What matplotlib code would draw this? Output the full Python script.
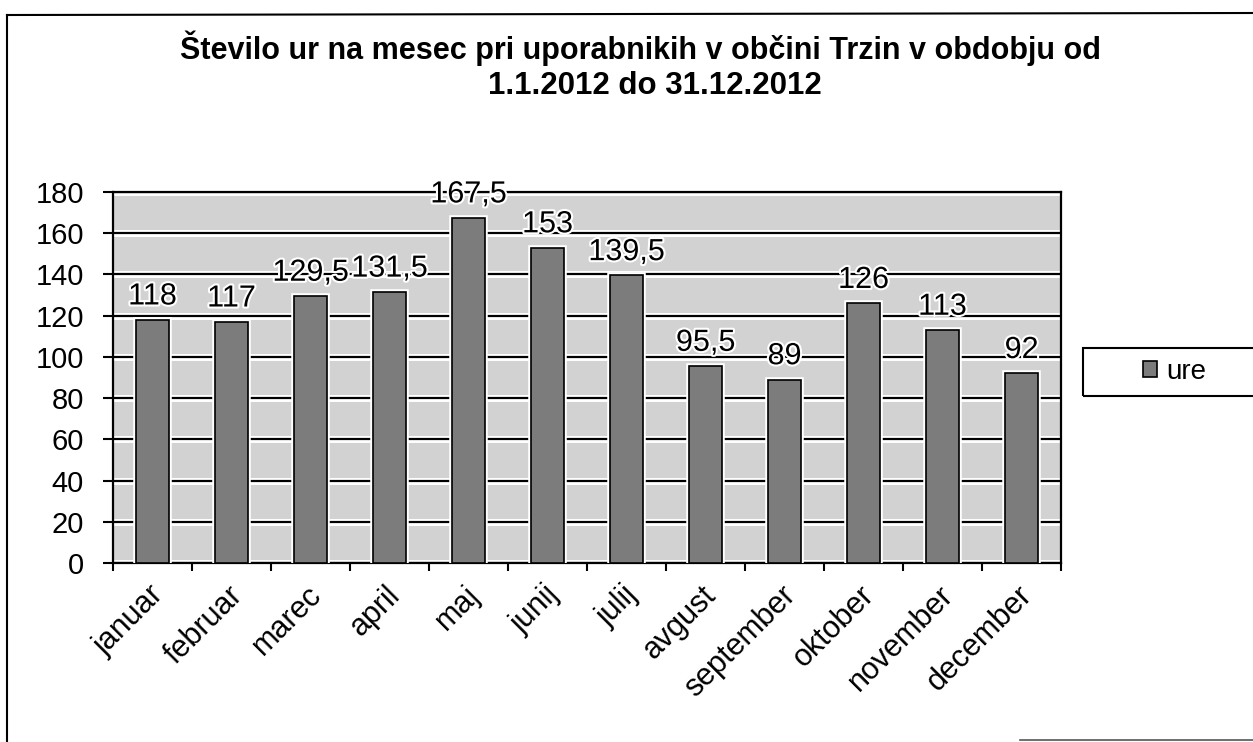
import matplotlib
matplotlib.use("Agg")
import matplotlib.pyplot as plt
import matplotlib.patheffects as pe
import matplotlib.transforms as mtransforms
from matplotlib.patches import Rectangle
from matplotlib.lines import Line2D
import numpy as np

months = ["januar", "februar", "marec", "april", "maj", "junij", "julij",
          "avgust", "september", "oktober", "november", "december"]
hours = [118, 117, 129.5, 131.5, 167.5, 153, 139.5, 95.5, 89, 126, 113, 92]
series_name = "ure"
title_line1 = "Število ur na mesec pri uporabnikih v občini Trzin v obdobju od"
title_line2 = "1.1.2012 do 31.12.2012"
yticks = list(range(0, 181, 20))

plt.rcParams['font.family'] = ['Liberation Sans', 'DejaVu Sans']

W, H = 1253, 742
fig = plt.figure(figsize=(W / 100, H / 100), dpi=100)

def fx(px):
    return px / W

def fy(py):
    return 1 - py / H

ax = fig.add_axes([fx(113), fy(563), fx(1061) - fx(113), fy(192) - fy(563)])
ax.set_facecolor('#d2d2d2')

x = np.arange(len(months))
bars = ax.bar(x, hours, width=0.42, color='#7c7c7c', edgecolor='black',
              linewidth=1.2, zorder=3, label=series_name)
for b in bars:
    b.set_path_effects([pe.Stroke(linewidth=4, foreground='white'), pe.Normal()])

labels = [("%g" % v).replace('.', ',') for v in hours]
texts = ax.bar_label(bars, labels=labels, padding=6, fontsize=22, color='black', zorder=4)
for t in texts:
    t.set_path_effects([pe.Stroke(linewidth=3, foreground='white'), pe.Normal()])

ax.set_xlim(-0.5, len(months) - 0.5)
ax.set_ylim(0, 180)
ax.set_yticks(yticks)
ax.set_yticklabels([str(t) for t in yticks], fontsize=21)
ax.yaxis.grid(True, color='black', linewidth=1.6, zorder=1,
              path_effects=[pe.Stroke(linewidth=5, foreground='white'), pe.Normal()])
ax.set_axisbelow(True)
ax.tick_params(axis='y', length=7, width=1.5, direction='out', pad=14, color='black')

ax.set_xticks(x)
ax.set_xticklabels(months, rotation=45, ha='right', rotation_mode='anchor', fontsize=22)
ax.tick_params(axis='x', which='major', length=0, pad=10)
shift = mtransforms.ScaledTranslation(-4 / 100, -3 / 100, fig.dpi_scale_trans)
for lbl in ax.get_xticklabels():
    lbl.set_transform(lbl.get_transform() + shift)
ax.set_xticks(np.arange(-0.5, len(months), 1.0), minor=True)
ax.tick_params(axis='x', which='minor', length=6, width=1.5, direction='out', color='black')

for s in ax.spines.values():
    s.set_color('black')
    s.set_linewidth(1.6)

fig.text(fx(641), fy(48), title_line1, ha='center', va='center',
         fontsize=22, fontweight='bold')
fig.text(fx(655), fy(86), title_line2, ha='center', va='center',
         fontsize=22.5, fontweight='bold')

# legend frame (extends past right edge as in the reference)
fig.patches.append(Rectangle((fx(1083), fy(396)), 1.05 - fx(1083), fy(348) - fy(396),
                             transform=fig.transFigure, fill=False,
                             edgecolor='black', linewidth=1.5))
leg = fig.legend(handles=[bars], labels=[series_name], loc='center left',
                 bbox_to_anchor=(fx(1143), fy(372)), frameon=False, fontsize=20,
                 handlelength=0.5, handleheight=0.5, handletextpad=0.35,
                 borderpad=0, borderaxespad=0)

# outer chart border
fig.add_artist(Line2D([fx(7), fx(7)], [fy(15), fy(742)], transform=fig.transFigure,
                      color='black', linewidth=1.5))
fig.add_artist(Line2D([fx(7), 1.0], [fy(15), fy(13)], transform=fig.transFigure,
                      color='black', linewidth=1.5))
fig.add_artist(Line2D([fx(1020), 1.0], [fy(740), fy(740)], transform=fig.transFigure,
                      color='#555555', linewidth=1.2))

fig.savefig("out.png", dpi=100, facecolor='white')
